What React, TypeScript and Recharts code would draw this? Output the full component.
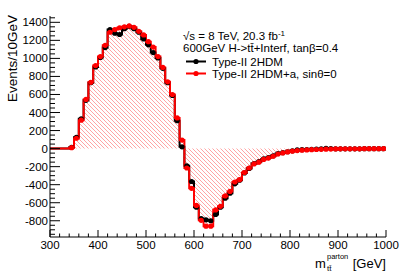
import React from 'react';
import { Area, ComposedChart, Line, XAxis, YAxis } from 'recharts';

// lower edges of the 10 GeV bins, 300 .. 990
const binLow = Array.from({ length: 70 }, (_, i) => 300 + 10 * i);

// Type-II 2HDM (black)
const type2 = [
  0, 0, 0, 0, 15, 125, 330, 535, 730, 905,
  1010, 1120, 1320, 1280, 1265, 1330, 1355, 1330, 1290, 1215,
  1150, 1065, 1005, 890, 730, 590, 310, 20, -190, -365,
  -650, -775, -790, -800, -730, -650, -550, -495, -390, -350,
  -270, -220, -165, -145, -115, -100, -80, -55, -45, -35,
  -25, -15, -12, -10, -8, -5, -2, 4, 1, -2,
  -3, -3, -2, -2, -2, -1, -1, -1, -1, -1,
];

// Type-II 2HDM+a, sin(theta)=0 (red)
const type2a = [
  0, 0, 0, 0, 10, 115, 315, 545, 735, 920,
  1020, 1145, 1290, 1320, 1340, 1350, 1360, 1345, 1300, 1260,
  1185, 1125, 1020, 900, 740, 600, 340, 95, -215, -440,
  -630, -795, -860, -860, -680, -640, -525, -475, -370, -345,
  -265, -215, -170, -150, -120, -105, -85, -60, -48, -37,
  -28, -22, -18, -15, -12, -10, -8, -6, -5, -4,
  -3, -3, -2, -2, -2, -1, -1, -1, -1, -1,
];

const xTicks = [300, 400, 500, 600, 700, 800, 900, 1000];
const yTicks = [-800, -600, -400, -200, 0, 200, 400, 600, 800, 1000, 1200, 1400];
const xMinor = Array.from({ length: 36 }, (_, i) => 300 + 20 * i);
const yMinor = Array.from({ length: 49 }, (_, i) => -950 + 50 * i);

const FONT = 'Liberation Sans, Arial, Helvetica, sans-serif';

const rows: any[] = [];
binLow.forEach((lo, i) => {
  rows.push({ x: lo, black: type2[i], red: type2a[i] });
  rows.push({ x: lo + 5, black: type2[i], red: type2a[i], c: true });
});
rows.push({ x: 1000, black: type2[69], red: type2a[69] });

const dotFor = (key: string, color: string) => (p: any) => {
  if (!p.payload.c || p.payload[key] === 0) return <g key={p.index} />;
  return <circle key={p.index} cx={p.cx} cy={p.cy} r={2.6} fill={color} />;
};

const BottomTick = (p: any) => {
  const v = p.payload.value;
  const major = xTicks.includes(v);
  return (
    <g>
      <line x1={p.x} x2={p.x} y1={p.y} y2={p.y - (major ? 7 : 3.5)} stroke="#000" />
      {major && (
        <text x={p.x} y={p.y + 12} textAnchor="middle" fontSize={11.5} fontFamily={FONT} fill="#000">
          {v}
        </text>
      )}
    </g>
  );
};

const TopTick = (p: any) => {
  const major = xTicks.includes(p.payload.value);
  return <line x1={p.x} x2={p.x} y1={p.y} y2={p.y + (major ? 7 : 3.5)} stroke="#000" />;
};

const LeftTick = (p: any) => {
  const v = p.payload.value;
  const major = yTicks.includes(v);
  return (
    <g>
      <line x1={p.x} x2={p.x + (major ? 10 : 5)} y1={p.y} y2={p.y} stroke="#000" />
      {major && (
        <text x={p.x - 2} y={p.y + 4} textAnchor="end" fontSize={11.5} fontFamily={FONT} fill="#000">
          {v}
        </text>
      )}
    </g>
  );
};

const RightTick = (p: any) => {
  const major = yTicks.includes(p.payload.value);
  return <line x1={p.x} x2={p.x - (major ? 10 : 5)} y1={p.y} y2={p.y} stroke="#000" />;
};

export default function App() {
  const yDomain = [-980, 1470];
  return (
    <div style={{ position: 'absolute', left: 0, top: 0, width: 402, height: 273, background: '#fff' }}>
      <ComposedChart width={402} height={273} data={rows} margin={{ top: 16, right: 16, bottom: 0, left: 0 }}>
        <defs>
          <pattern id="hatch" patternUnits="userSpaceOnUse" width="4" height="4">
            <path d="M-1,-1 L5,5 M-1,3 L1,5 M3,-1 L5,1" stroke="#ff0000" strokeOpacity={0.45} strokeWidth={0.8} />
          </pattern>
        </defs>
        <XAxis
          dataKey="x"
          type="number"
          domain={[300, 1000]}
          allowDataOverflow
          ticks={xMinor}
          interval={0}
          height={36}
          tickSize={0}
          tickMargin={0}
          tickLine={false}
          tick={<BottomTick />}
          axisLine={{ stroke: '#000' }}
        />
        <XAxis
          xAxisId="top"
          orientation="top"
          dataKey="x"
          type="number"
          domain={[300, 1000]}
          allowDataOverflow
          ticks={xMinor}
          interval={0}
          height={0}
          tickSize={0}
          tickMargin={0}
          tickLine={false}
          tick={<TopTick />}
          axisLine={{ stroke: '#000' }}
        />
        <YAxis
          type="number"
          domain={yDomain}
          allowDataOverflow
          ticks={yMinor}
          interval={0}
          width={50}
          tickSize={0}
          tickMargin={0}
          tickLine={false}
          tick={<LeftTick />}
          axisLine={{ stroke: '#000' }}
        />
        <YAxis
          yAxisId="r"
          orientation="right"
          type="number"
          domain={yDomain}
          allowDataOverflow
          ticks={yMinor}
          interval={0}
          width={0}
          tickSize={0}
          tickMargin={0}
          tickLine={false}
          tick={<RightTick />}
          axisLine={{ stroke: '#000' }}
        />
        <Area
          dataKey="red"
          type="stepAfter"
          baseValue={0}
          fill="url(#hatch)"
          fillOpacity={1}
          stroke="none"
          dot={false}
          activeDot={false}
          isAnimationActive={false}
        />
        <Line
          dataKey="black"
          type="stepAfter"
          stroke="#000"
          strokeWidth={2}
          dot={dotFor('black', '#000')}
          activeDot={false}
          isAnimationActive={false}
        />
        <Line
          dataKey="red"
          type="stepAfter"
          stroke="#ff0000"
          strokeWidth={2}
          dot={dotFor('red', '#ff0000')}
          activeDot={false}
          isAnimationActive={false}
        />
      </ComposedChart>
      <svg
        width={402}
        height={273}
        style={{ position: 'absolute', left: 0, top: 0, pointerEvents: 'none' }}
        fontFamily={FONT}
        fill="#000"
      >
        <text transform="rotate(-90)" x={-15} y={17} textAnchor="end" fontSize={13.5}>
          Events/10GeV
        </text>
        <text x={315} y={268} fontSize={13}>m</text>
        <text x={327} y={258.5} fontSize={7.5}>parton</text>
        <text x={327} y={270.5} fontSize={8}>{'tt\u0304'}</text>
        <text x={386} y={268} textAnchor="end" fontSize={13}>[GeV]</text>
        <text x={183} y={39.5} fontSize={11.5}>
          {'\u221As = 8 TeV, 20.3 fb'}
          <tspan dy={-4} fontSize={8}>-1</tspan>
        </text>
        <text x={183} y={52} fontSize={11.5}>{'600GeV H->tt\u0304+Interf, tan\u03B2=0.4'}</text>
        <line x1={186} x2={206} y1={61.5} y2={61.5} stroke="#000" strokeWidth={2} />
        <circle cx={196} cy={61.5} r={2.6} fill="#000" />
        <text x={212} y={65.5} fontSize={11.5}>Type-II 2HDM</text>
        <line x1={186} x2={206} y1={73.5} y2={73.5} stroke="#ff0000" strokeWidth={2} />
        <circle cx={196} cy={73.5} r={2.6} fill="#ff0000" />
        <text x={212} y={77.5} fontSize={11.5}>{'Type-II 2HDM+a, sin\u03B8=0'}</text>
      </svg>
    </div>
  );
}
